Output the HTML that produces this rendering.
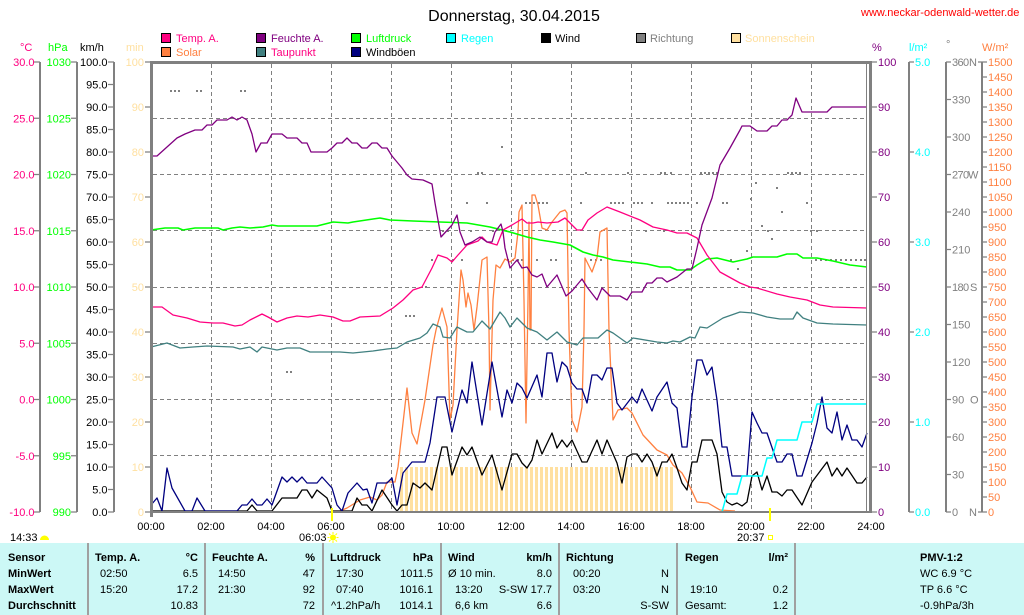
<!DOCTYPE html>
<html><head><meta charset="utf-8">
<style>
html,body{margin:0;padding:0;background:#fff;width:1024px;height:615px;overflow:hidden;}
svg{display:block;font-family:"Liberation Sans",sans-serif;}
</style></head><body>
<svg width="1024" height="615" viewBox="0 0 1024 615" xmlns="http://www.w3.org/2000/svg">
<defs>
<pattern id="sun" x="400" y="0" width="5" height="615" patternUnits="userSpaceOnUse">
<rect x="0" y="0" width="3" height="615" fill="#ffe0a0"/>
</pattern>
</defs>
<rect x="0" y="0" width="1024" height="615" fill="#fff"/>

<!-- Title & URL -->
<text x="514" y="21" font-size="16" text-anchor="middle" fill="#000">Donnerstag, 30.04.2015</text>
<text x="861" y="16" font-size="11" fill="#ff0000">www.neckar-odenwald-wetter.de</text>

<!-- Legend -->
<g font-size="11" stroke-width="1">
<rect x="161.5" y="33.5" width="9" height="9" fill="#ff0080" stroke="#000"/><text x="176" y="42" fill="#ff0080">Temp. A.</text>
<rect x="256.5" y="33.5" width="9" height="9" fill="#800080" stroke="#000"/><text x="271" y="42" fill="#800080">Feuchte A.</text>
<rect x="351.5" y="33.5" width="9" height="9" fill="#00ff00" stroke="#000"/><text x="366" y="42" fill="#00ff00">Luftdruck</text>
<rect x="446.5" y="33.5" width="9" height="9" fill="#00ffff" stroke="#000"/><text x="461" y="42" fill="#00ffff">Regen</text>
<rect x="541.5" y="33.5" width="9" height="9" fill="#000" stroke="#000"/><text x="555" y="42" fill="#000">Wind</text>
<rect x="636.5" y="33.5" width="9" height="9" fill="#808080" stroke="#000"/><text x="650" y="42" fill="#808080">Richtung</text>
<rect x="731.5" y="33.5" width="9" height="9" fill="#ffe0a0" stroke="#000"/><text x="745" y="42" fill="#ffe0a0">Sonnenschein</text>
<rect x="161.5" y="47.5" width="9" height="9" fill="#ff8040" stroke="#000"/><text x="176" y="56" fill="#ff8040">Solar</text>
<rect x="256.5" y="47.5" width="9" height="9" fill="#408080" stroke="#000"/><text x="271" y="56" fill="#ff0080">Taupunkt</text>
<rect x="351.5" y="47.5" width="9" height="9" fill="#000080" stroke="#000"/><text x="366" y="56" fill="#000">Windböen</text>
</g>

<!-- Unit labels -->
<g font-size="11">
<text x="20" y="51" fill="#ff0080">°C</text>
<text x="48" y="51" fill="#00ff00">hPa</text>
<text x="80" y="51" fill="#000">km/h</text>
<text x="126" y="51" fill="#ffe0a0">min</text>
<text x="872" y="51" fill="#800080">%</text>
<text x="909" y="51" fill="#00ffff">l/m²</text>
<text x="946" y="48" fill="#808080">°</text>
<text x="982" y="51" fill="#ff8040">W/m²</text>
</g>

<!-- Axis lines & ticks -->
<g stroke="#808080" stroke-width="2" fill="none">
<path d="M40 62V512M77 62V512M114 62V512M909 62V512M946 62V512M982 62V512"/>
</g>
<g stroke="#808080" stroke-width="1.2" fill="none">
<path d="M34 62H40M34 118.25H40M34 174.5H40M34 230.75H40M34 287H40M34 343.25H40M34 399.5H40M34 455.75H40M34 512H40"/>
<path d="M71 62H77M71 118.25H77M71 174.5H77M71 230.75H77M71 287H77M71 343.25H77M71 399.5H77M71 455.75H77M71 512H77"/>
<path d="M108 62H114M108 84.5H114M108 107H114M108 129.5H114M108 152H114M108 174.5H114M108 197H114M108 219.5H114M108 242H114M108 264.5H114M108 287H114M108 309.5H114M108 332H114M108 354.5H114M108 377H114M108 399.5H114M108 422H114M108 444.5H114M108 467H114M108 489.5H114M108 512H114"/>
<path d="M145 62H151M145 107H151M145 152H151M145 197H151M145 242H151M145 287H151M145 332H151M145 377H151M145 422H151M145 467H151M145 512H151"/>
<path d="M871 62H877M871 107H877M871 152H877M871 197H877M871 242H877M871 287H877M871 332H877M871 377H877M871 422H877M871 467H877M871 512H877"/>
<path d="M909 62H914M909 152H914M909 242H914M909 332H914M909 422H914M909 512H914"/>
<path d="M946 62H951M946 99.5H951M946 137H951M946 174.5H951M946 212H951M946 249.5H951M946 287H951M946 324.5H951M946 362H951M946 399.5H951M946 437H951M946 474.5H951M946 512H951"/>
<path d="M978 62H987M982 77H987M982 92H987M982 107H987M982 122H987M982 137H987M982 152H987M982 167H987M982 182H987M982 197H987M982 212H987M982 227H987M982 242H987M982 257H987M982 272H987M982 287H987M982 302H987M982 317H987M982 332H987M982 347H987M982 362H987M982 377H987M982 392H987M982 407H987M982 422H987M982 437H987M982 452H987M982 467H987M982 482H987M982 497H987M978 512H987"/>
</g>

<!-- Axis tick labels -->
<g font-size="11">
<g fill="#ff0080" text-anchor="end">
<text x="34.5" y="66">30.0</text><text x="34.5" y="122.25">25.0</text><text x="34.5" y="178.5">20.0</text><text x="34.5" y="234.75">15.0</text><text x="34.5" y="291">10.0</text><text x="34.5" y="347.25">5.0</text><text x="34.5" y="403.5">0.0</text><text x="34.5" y="459.75">-5.0</text><text x="34.5" y="516">-10.0</text>
</g>
<g fill="#00ff00" text-anchor="end">
<text x="71" y="66">1030</text><text x="71" y="122.25">1025</text><text x="71" y="178.5">1020</text><text x="71" y="234.75">1015</text><text x="71" y="291">1010</text><text x="71" y="347.25">1005</text><text x="71" y="403.5">1000</text><text x="71" y="459.75">995</text><text x="71" y="516">990</text>
</g>
<g fill="#000" text-anchor="end">
<text x="107.5" y="66">100.0</text><text x="107.5" y="88.5">95.0</text><text x="107.5" y="111">90.0</text><text x="107.5" y="133.5">85.0</text><text x="107.5" y="156">80.0</text><text x="107.5" y="178.5">75.0</text><text x="107.5" y="201">70.0</text><text x="107.5" y="223.5">65.0</text><text x="107.5" y="246">60.0</text><text x="107.5" y="268.5">55.0</text><text x="107.5" y="291">50.0</text><text x="107.5" y="313.5">45.0</text><text x="107.5" y="336">40.0</text><text x="107.5" y="358.5">35.0</text><text x="107.5" y="381">30.0</text><text x="107.5" y="403.5">25.0</text><text x="107.5" y="426">20.0</text><text x="107.5" y="448.5">15.0</text><text x="107.5" y="471">10.0</text><text x="107.5" y="493.5">5.0</text><text x="107.5" y="516">0.0</text>
</g>
<g fill="#ffe0a0" text-anchor="end">
<text x="144" y="66">100</text><text x="144" y="111">90</text><text x="144" y="156">80</text><text x="144" y="201">70</text><text x="144" y="246">60</text><text x="144" y="291">50</text><text x="144" y="336">40</text><text x="144" y="381">30</text><text x="144" y="426">20</text><text x="144" y="471">10</text><text x="144" y="516">0</text>
</g>
<g fill="#800080">
<text x="878" y="66">100</text><text x="878" y="111">90</text><text x="878" y="156">80</text><text x="878" y="201">70</text><text x="878" y="246">60</text><text x="878" y="291">50</text><text x="878" y="336">40</text><text x="878" y="381">30</text><text x="878" y="426">20</text><text x="878" y="471">10</text><text x="878" y="516">0</text>
</g>
<g fill="#00ffff">
<text x="915" y="66">5.0</text><text x="915" y="156">4.0</text><text x="915" y="246">3.0</text><text x="915" y="336">2.0</text><text x="915" y="426">1.0</text><text x="915" y="516">0.0</text>
</g>
<g fill="#808080">
<text x="952" y="66" letter-spacing="-0.6">360</text><text x="969" y="66">N</text>
<text x="952" y="103.5">330</text>
<text x="952" y="141">300</text>
<text x="952" y="178.5" letter-spacing="-0.6">270</text><text x="968" y="178.5">W</text>
<text x="952" y="216">240</text>
<text x="952" y="253.5">210</text>
<text x="952" y="291" letter-spacing="-0.6">180</text><text x="970" y="291">S</text>
<text x="952" y="328.5">150</text>
<text x="952" y="366">120</text>
<text x="952" y="403.5">90</text><text x="970" y="403.5">O</text>
<text x="952" y="441">60</text>
<text x="952" y="478.5">30</text>
<text x="952" y="516">0</text><text x="969" y="516">N</text>
</g>
<g fill="#ff8040">
<text x="988" y="66">1500</text><text x="988" y="81">1450</text><text x="988" y="96">1400</text><text x="988" y="111">1350</text><text x="988" y="126">1300</text><text x="988" y="141">1250</text><text x="988" y="156">1200</text><text x="988" y="171">1150</text><text x="988" y="186">1100</text><text x="988" y="201">1050</text><text x="988" y="216">1000</text><text x="988" y="231">950</text><text x="988" y="246">900</text><text x="988" y="261">850</text><text x="988" y="276">800</text><text x="988" y="291">750</text><text x="988" y="306">700</text><text x="988" y="321">650</text><text x="988" y="336">600</text><text x="988" y="351">550</text><text x="988" y="366">500</text><text x="988" y="381">450</text><text x="988" y="396">400</text><text x="988" y="411">350</text><text x="988" y="426">300</text><text x="988" y="441">250</text><text x="988" y="456">200</text><text x="988" y="471">150</text><text x="988" y="486">100</text><text x="988" y="501">50</text><text x="988" y="516">0</text>
</g>
</g>

<!-- Grid -->
<g stroke="#808080" stroke-width="1" stroke-dasharray="4,3" fill="none">
<path d="M211.5 64V511M271.5 64V511M331.5 64V511M391.5 64V511M451.5 64V511M511.5 64V511M571.5 64V511M631.5 64V511M691.5 64V511M751.5 64V511M811.5 64V511"/>
<path d="M153 118.5H867M153 174.5H867M153 230.5H867M153 287.5H867M153 343.5H867M153 399.5H867M153 455.5H867"/>
</g>

<!-- Sunshine stripes -->
<rect x="400" y="467" width="273" height="44" fill="url(#sun)"/>

<!-- Richtung dots -->
<g fill="#808080">
<rect x="170" y="90" width="2" height="2"/><rect x="174" y="90" width="2" height="2"/><rect x="178" y="90" width="2" height="2"/>
<rect x="196" y="90" width="2" height="2"/><rect x="200" y="90" width="2" height="2"/>
<rect x="240" y="90" width="2" height="2"/><rect x="244" y="90" width="2" height="2"/>
<rect x="286" y="371" width="2" height="2"/><rect x="290" y="371" width="2" height="2"/>
<rect x="405" y="315" width="2" height="2"/><rect x="409" y="315" width="2" height="2"/><rect x="413" y="315" width="2" height="2"/>
<rect x="425" y="286" width="2" height="2"/>
<rect x="431" y="259" width="2" height="2"/><rect x="452" y="259" width="2" height="2"/><rect x="461" y="259" width="2" height="2"/>
<rect x="442" y="230" width="2" height="2"/><rect x="447" y="230" width="2" height="2"/><rect x="470" y="230" width="2" height="2"/><rect x="492" y="230" width="2" height="2"/>
<rect x="466" y="202" width="2" height="2"/><rect x="486" y="202" width="2" height="2"/>
<rect x="477" y="172" width="2" height="2"/><rect x="481" y="172" width="2" height="2"/>
<rect x="501" y="146" width="2" height="2"/>
<rect x="507" y="259" width="2" height="2"/><rect x="512" y="259" width="2" height="2"/><rect x="517" y="259" width="2" height="2"/><rect x="521" y="259" width="2" height="2"/>
<rect x="525" y="202" width="2" height="2"/><rect x="529" y="202" width="2" height="2"/><rect x="533" y="202" width="2" height="2"/><rect x="538" y="202" width="2" height="2"/><rect x="542" y="202" width="2" height="2"/><rect x="546" y="202" width="2" height="2"/>
<rect x="536" y="259" width="2" height="2"/><rect x="550" y="259" width="2" height="2"/><rect x="555" y="259" width="2" height="2"/>
<rect x="580" y="202" width="2" height="2"/><rect x="585" y="172" width="2" height="2"/>
<rect x="590" y="259" width="2" height="2"/><rect x="595" y="259" width="2" height="2"/><rect x="600" y="259" width="2" height="2"/>
<rect x="610" y="202" width="2" height="2"/><rect x="614" y="202" width="2" height="2"/><rect x="618" y="202" width="2" height="2"/><rect x="622" y="202" width="2" height="2"/>
<rect x="627" y="172" width="2" height="2"/>
<rect x="633" y="202" width="2" height="2"/><rect x="637" y="202" width="2" height="2"/><rect x="641" y="202" width="2" height="2"/><rect x="651" y="202" width="2" height="2"/>
<rect x="645" y="230" width="2" height="2"/><rect x="663" y="230" width="2" height="2"/>
<rect x="660" y="172" width="2" height="2"/><rect x="664" y="172" width="2" height="2"/><rect x="670" y="172" width="2" height="2"/>
<rect x="667" y="202" width="2" height="2"/><rect x="671" y="202" width="2" height="2"/><rect x="675" y="202" width="2" height="2"/><rect x="679" y="202" width="2" height="2"/><rect x="683" y="202" width="2" height="2"/><rect x="687" y="202" width="2" height="2"/><rect x="696" y="202" width="2" height="2"/>
<rect x="700" y="172" width="2" height="2"/><rect x="704" y="172" width="2" height="2"/><rect x="708" y="172" width="2" height="2"/><rect x="712" y="172" width="2" height="2"/><rect x="716" y="172" width="2" height="2"/>
<rect x="722" y="202" width="2" height="2"/><rect x="726" y="202" width="2" height="2"/>
<rect x="730" y="259" width="2" height="2"/><rect x="737" y="268" width="2" height="2"/>
<rect x="746" y="250" width="2" height="2"/><rect x="750" y="198" width="2" height="2"/><rect x="755" y="182" width="2" height="2"/>
<rect x="761" y="225" width="2" height="2"/><rect x="767" y="230" width="2" height="2"/><rect x="771" y="238" width="2" height="2"/><rect x="776" y="187" width="2" height="2"/><rect x="781" y="211" width="2" height="2"/>
<rect x="787" y="172" width="2" height="2"/><rect x="791" y="172" width="2" height="2"/><rect x="795" y="172" width="2" height="2"/><rect x="799" y="172" width="2" height="2"/>
<rect x="806" y="202" width="2" height="2"/><rect x="810" y="230" width="2" height="2"/><rect x="816" y="230" width="2" height="2"/>
<rect x="815" y="259" width="2" height="2"/><rect x="820" y="259" width="2" height="2"/><rect x="825" y="259" width="2" height="2"/><rect x="830" y="259" width="2" height="2"/><rect x="835" y="259" width="2" height="2"/><rect x="840" y="259" width="2" height="2"/><rect x="845" y="259" width="2" height="2"/><rect x="850" y="259" width="2" height="2"/><rect x="855" y="259" width="2" height="2"/><rect x="860" y="259" width="2" height="2"/><rect x="864" y="259" width="2" height="2"/>
</g>

<!-- Series -->
<g fill="none" stroke-width="1.3" stroke-linejoin="round">
<!-- Solar -->
<polyline stroke="#ff8040" points="340,511 347,508 360,500 370,497 377,500 382,495 387,482 395,482 398,467 407,388 412,433 417,444 425,400 433,345 436,330 442,308 447,327 450,420 453,405 457,330 461,270 463,280 466,307 468,293 471,305 474,330 477,307 482,260 487,257 489,330 490,410 493,300 496,265 500,268 505,259 510,262 515,258 518,232 519,212 522,205 524,300 526,423 528,300 529,222 530,330 531,330 532,195 535,195 538,205 542,228 547,230 552,222 560,212 565,210 567,213 569,330 572,420 577,432 582,407 584,330 585,258 592,272 597,258 600,232 607,228 609,330 613,420 618,410 627,408 632,413 643,435 657,450 667,455 673,465 682,473 690,487 697,502 708,503 720,510 735,511"/>
<!-- Taupunkt -->
<polyline stroke="#408080" points="151,347 167,343 180,348 193,347 207,346 233,347 240,349 250,347 257,352 262,347 277,350 287,348 300,348 310,352 340,352 353,353 373,351 387,349 397,348 407,342 420,338 427,333 433,324 440,327 443,337 450,338 457,327 467,332 473,332 482,321 490,329 500,312 505,318 510,327 517,318 527,328 537,332 547,340 557,332 567,342 577,345 583,338 598,338 607,330 613,333 627,343 633,338 657,342 667,343 673,341 680,342 690,337 695,338 700,327 707,328 723,318 740,312 753,313 767,317 780,319 793,319 797,312 803,318 817,323 833,324 867,325"/>
<!-- Luftdruck -->
<polyline stroke="#00ff00" stroke-width="1.6" points="151,230 165,228 178,228 183,230 195,228 218,228 223,230 232,228 240,227 250,228 263,227 272,225 278,226 317,226 333,222 348,223 353,222 373,219 380,218 390,220 413,221 467,223 490,227 510,232 527,237 540,240 553,242 570,245 583,252 593,255 603,257 613,260 630,262 647,264 660,267 670,267 677,270 690,270 697,265 707,259 717,258 733,262 747,259 753,257 777,257 787,254 797,254 803,258 817,258 833,261 850,265 867,267"/>
<!-- Temp -->
<polyline stroke="#ff0080" points="151,307 162,307 173,315 187,318 200,322 213,323 223,323 235,326 242,325 250,320 262,314 268,317 277,322 287,318 297,316 308,317 320,315 333,317 343,321 350,321 360,317 380,316 393,308 403,300 413,290 422,287 432,268 438,255 447,258 452,262 458,255 467,245 478,241 482,237 487,242 497,245 503,230 512,225 522,219 527,223 533,223 538,222 547,223 558,222 565,218 577,230 582,230 588,220 597,213 607,207 620,212 640,220 653,227 667,230 677,233 687,233 697,238 707,255 720,272 740,283 750,287 757,288 777,294 790,297 807,300 820,305 833,307 867,308"/>
<!-- Feuchte -->
<polyline stroke="#800080" points="151,156 157,156 177,138 185,134 195,130 202,130 207,125 212,125 217,120 227,120 232,117 237,120 242,117 247,120 252,134 256,152 261,143 267,143 272,134 282,134 287,138 297,138 302,143 307,143 311,152 327,152 332,148 337,143 342,143 347,138 352,143 357,143 362,148 367,148 372,143 377,143 382,148 387,148 392,156 402,168 407,175 412,179 423,180 432,184 435,203 441,237 452,225 457,215 460,232 465,245 472,242 480,237 487,242 492,242 495,232 501,224 503,232 505,248 510,268 517,260 522,268 527,267 532,275 537,277 542,274 547,287 557,275 566,296 572,291 582,279 587,287 597,300 602,288 610,296 620,296 627,300 632,292 642,292 647,283 652,283 657,278 662,278 667,282 677,277 687,269 692,269 697,248 702,225 712,198 720,165 730,148 740,130 742,126 750,126 757,131 767,131 772,126 777,126 782,120 787,120 792,115 796,98 802,112 827,112 832,107 867,107"/>
<!-- Wind -->
<polyline stroke="#000" points="151,511 247,511 252,505 257,511 272,511 282,498 297,498 302,490 307,490 312,498 317,490 327,498 332,511 352,511 357,498 362,505 367,505 372,511 382,490 392,505 397,511 402,505 407,505 413,483 420,488 425,483 432,490 442,447 447,447 452,475 462,447 467,455 472,447 482,475 492,455 502,490 512,454 517,454 522,463 527,468 532,460 537,440 542,454 552,433 557,448 562,440 567,447 572,440 582,462 587,462 597,440 602,454 607,440 617,463 622,483 627,457 632,454 637,454 642,462 647,454 652,462 657,476 662,462 667,462 672,454 677,468 682,483 687,490 692,462 697,462 702,440 712,440 717,454 722,492 727,502 732,505 737,503 742,506 747,502 752,476 757,472 762,490 767,476 772,492 777,492 782,496 787,490 792,490 802,505 812,482 827,462 832,476 837,468 842,476 847,468 857,483 862,483 867,477"/>
<!-- Windboeen -->
<polyline stroke="#000080" points="151,505 157,498 162,511 167,468 172,488 185,511 192,511 197,498 205,511 237,511 242,505 247,505 252,499 257,505 262,505 267,499 272,505 282,477 287,482 292,477 297,482 302,477 307,483 317,483 322,477 332,488 337,505 342,511 348,493 357,483 363,490 367,489 372,503 377,483 387,483 392,478 397,505 403,473 412,462 425,462 430,443 437,397 445,397 452,432 462,390 467,403 472,362 482,425 492,362 502,417 507,390 512,403 517,383 522,388 527,398 537,375 542,397 547,353 552,353 557,382 562,362 567,367 572,383 577,389 582,389 587,403 592,375 597,375 602,380 607,368 612,368 617,403 622,410 632,397 637,403 642,389 652,411 657,397 667,382 672,403 677,408 682,447 687,447 692,397 697,360 702,360 707,375 712,367 717,400 722,447 727,447 732,476 747,476 752,412 757,423 762,433 767,433 777,462 782,462 787,454 792,454 797,476 802,476 812,443 817,423 822,397 827,428 832,433 837,412 842,440 847,425 852,440 857,440 862,447 867,433"/>
<!-- Regen -->
<polyline stroke="#00ffff" stroke-width="1.5" points="722,512 727,494 737,494 742,476 762,476 767,458 772,458 777,440 797,440 802,422 812,422 817,404 867,404"/>
</g>

<!-- Plot border -->
<g fill="#808080">
<rect x="150" y="61" width="722" height="3"/>
<rect x="150" y="61" width="3" height="456"/>
<rect x="869" y="61" width="3" height="452"/>
<rect x="866" y="64" width="1" height="448"/>
<rect x="150" y="511" width="722" height="2"/>
</g>

<!-- X labels -->
<g font-size="11" fill="#000" text-anchor="middle">
<text x="151" y="530">00:00</text><text x="211" y="530">02:00</text><text x="271" y="530">04:00</text><text x="331" y="530">06:00</text><text x="391" y="530">08:00</text><text x="451" y="530">10:00</text><text x="511" y="530">12:00</text><text x="571" y="530">14:00</text><text x="631" y="530">16:00</text><text x="691" y="530">18:00</text><text x="751" y="530">20:00</text><text x="811" y="530">22:00</text><text x="871" y="530">24:00</text>
</g>

<!-- Sun markers -->
<rect x="331" y="508" width="2" height="13" fill="#ffff00"/>
<rect x="769" y="508" width="2" height="13" fill="#ffff00"/>
<g font-size="11" fill="#000">
<text x="10" y="541">14:33</text>
<text x="299" y="541">06:03</text>
<text x="737" y="541">20:37</text>
</g>
<path d="M40 540 A4.5 4.5 0 0 1 49 540 Z" fill="#ffff00"/>
<circle cx="333" cy="537.5" r="3" fill="#ffff00"/>
<g stroke="#ffff00" stroke-width="1">
<path d="M333 532V534M333 541V543M327.5 537.5H329.5M336.5 537.5H338.5M329 533.5L330.5 535M335.5 540L337 541.5M337 533.5L335.5 535M330.5 540L329 541.5"/>
</g>
<rect x="768.5" y="535.5" width="4" height="4" fill="none" stroke="#ffff00" stroke-width="1"/>

<!-- Bottom table -->
<rect x="0" y="543" width="1024" height="72" fill="#ccf8f6"/>
<g stroke="#a0a0a0" stroke-width="2">
<path d="M88 543V615M205 543V615M323 543V615M441 543V615M559 543V615M677 543V615M795 543V615"/>
</g>
<g font-size="11" fill="#000">
<g font-weight="bold">
<text x="8" y="561">Sensor</text>
<text x="8" y="577">MinWert</text>
<text x="8" y="593">MaxWert</text>
<text x="8" y="609">Durchschnitt</text>
<text x="95" y="561">Temp. A.</text><text x="198" y="561" text-anchor="end">°C</text>
<text x="212" y="561">Feuchte A.</text><text x="315" y="561" text-anchor="end">%</text>
<text x="330" y="561">Luftdruck</text><text x="433" y="561" text-anchor="end">hPa</text>
<text x="448" y="561">Wind</text><text x="552" y="561" text-anchor="end">km/h</text>
<text x="566" y="561">Richtung</text>
<text x="685" y="561">Regen</text><text x="788" y="561" text-anchor="end">l/m²</text>
<text x="920" y="561">PMV-1:2</text>
</g>
<text x="100" y="577">02:50</text><text x="198" y="577" text-anchor="end">6.5</text>
<text x="100" y="593">15:20</text><text x="198" y="593" text-anchor="end">17.2</text>
<text x="198" y="609" text-anchor="end">10.83</text>
<text x="218" y="577">14:50</text><text x="315" y="577" text-anchor="end">47</text>
<text x="218" y="593">21:30</text><text x="315" y="593" text-anchor="end">92</text>
<text x="315" y="609" text-anchor="end">72</text>
<text x="336" y="577">17:30</text><text x="433" y="577" text-anchor="end">1011.5</text>
<text x="336" y="593">07:40</text><text x="433" y="593" text-anchor="end">1016.1</text>
<text x="331" y="609">^1.2hPa/h</text><text x="433" y="609" text-anchor="end">1014.1</text>
<text x="448" y="577">Ø 10 min.</text><text x="552" y="577" text-anchor="end">8.0</text>
<text x="455" y="593">13:20</text><text x="552" y="593" text-anchor="end">S-SW 17.7</text>
<text x="455" y="609">6,6 km</text><text x="552" y="609" text-anchor="end">6.6</text>
<text x="573" y="577">00:20</text><text x="669" y="577" text-anchor="end">N</text>
<text x="573" y="593">03:20</text><text x="669" y="593" text-anchor="end">N</text>
<text x="669" y="609" text-anchor="end">S-SW</text>
<text x="690" y="593">19:10</text><text x="788" y="593" text-anchor="end">0.2</text>
<text x="685" y="609">Gesamt:</text><text x="788" y="609" text-anchor="end">1.2</text>
<text x="920" y="577">WC 6.9 °C</text>
<text x="920" y="593">TP 6.6 °C</text>
<text x="920" y="609">-0.9hPa/3h</text>
</g>
</svg>
</body></html>
